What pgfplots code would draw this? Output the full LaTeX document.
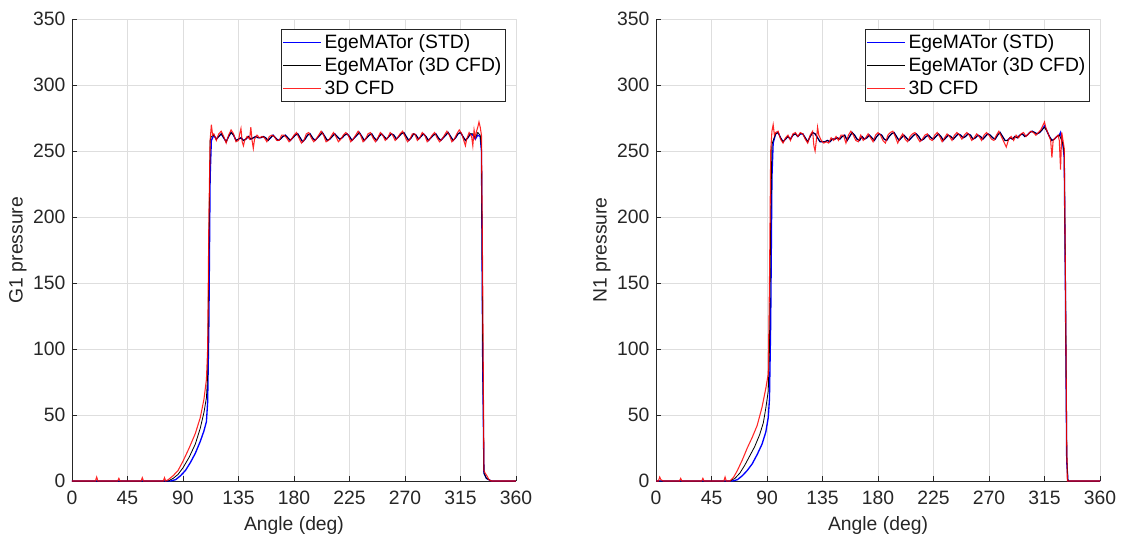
\documentclass[border=0pt]{standalone}
\usepackage{fontspec}
\setmainfont{Liberation Sans}
\usepackage{pgfplots}
\pgfplotsset{compat=1.18}
\definecolor{axgray}{rgb}{0.15,0.15,0.15}
\definecolor{gridgray}{rgb}{0.87,0.87,0.87}
\pgfplotsset{
  mlab/.style={
    scale only axis,
    width=333pt, height=346.5pt,
    xmin=0, xmax=360, ymin=0, ymax=350,
    xtick={0,45,...,360}, ytick={0,50,...,350},
    axis x line*=bottom, axis y line*=left,
    axis line style={axgray, line width=0.5pt},
    tick style={axgray, line width=0.5pt},
    tick align=inside, major tick length=4pt,
    grid=major, grid style={gridgray, line width=0.5pt},
    font=\fontsize{14.5}{17}\selectfont,
    tick label style={text=axgray},
    xticklabel style={yshift=-4pt},
    yticklabel style={xshift=-1.5pt},
    /pgf/number format/assume math mode=true,
    xlabel={Angle (deg)},
    xlabel style={text=axgray, yshift=-2pt},
    ylabel style={text=axgray, yshift=-2pt},
    legend style={at={(0.977,0.978)}, anchor=north east, draw=axgray,
      line width=0.5pt, fill=white, font=\fontsize{14.5}{17}\selectfont,
      inner xsep=1pt, inner ysep=1.5pt, row sep=1.6pt,
      cells={anchor=west}},
    legend image code/.code={\draw[#1] (0pt,0pt) -- (28.5pt,0pt);},
  },
  stdline/.style={blue, line width=1pt},
  cfdline/.style={black, line width=0.6pt},
  redline/.style={red, line width=0.8pt, opacity=0.85},
}
\begin{document}
\begin{tikzpicture}
\useasboundingbox (-54pt,-41.25pt) rectangle (786.75pt,360.75pt);
% ---------------- G1 ----------------
\begin{axis}[mlab, at={(0pt,0pt)}, anchor=south west, ylabel={G1 pressure}]
\addplot[stdline] coordinates {
(0,0)(80,0)(84,1)(88,4)(92,8)(96,14)(100,21)(104,30)(107,38)(109,45)(110,60)(111,120)(112,230)(113,258)
(115,262)(117,259)(119,261)(121,263)(123,260)(125,257)(127,261)(129,264)(131,262)(133,258)(135,259)
(137,260)(139,258)(141,259)(143,261)(145,259)(147,260)(149,261)(151,260)(153,260)(155,261)(157,260)
(159,258)(161,260)(163,262)(165,260)(167,258)(169,259)(171,261)(173,262)(175,260)(177,258)(179,260)
(181,262)(183,263)(185,260)(187,257)(189,259)(191,262)(193,263)(195,260)(197,258)(199,260)(201,262)
(203,264)(205,261)(207,258)(209,259)(211,261)(213,263)(215,261)(217,259)(219,260)(221,262)(223,263)
(225,261)(227,258)(229,260)(231,262)(233,264)(235,261)(237,258)(239,260)(241,262)(243,263)(245,260)
(247,258)(249,261)(251,263)(253,261)(255,259)(257,261)(259,263)(261,262)(263,259)(265,261)(267,263)
(269,264)(271,261)(273,258)(275,260)(277,263)(279,262)(281,259)(283,261)(285,263)(287,261)(289,258)
(291,260)(293,262)(295,263)(297,260)(299,258)(301,260)(303,262)(305,264)(307,261)(309,258)(311,260)
(313,263)(315,264)(317,261)(319,258)(321,260)(323,263)(325,262)(327,259)(329,262)(331,261)(332,250)
(333,90)(334,6)(336,2)(340,0)(360,0)};
\addlegendentry{EgeMATor (STD)}
\addplot[cfdline] coordinates {
(0,0)(78,0)(82,2)(86,5)(90,10)(95,18)(100,28)(104,40)(107,52)(109,63)(110,80)(111,180)(112,258)(113,261)
(115,262)(117,259)(119,261)(121,263)(123,260)(125,257)(127,261)(129,264)(131,262)(133,258)(135,259)
(137,260)(139,258)(141,259)(143,261)(145,259)(147,260)(149,261)(151,260)(153,260)(155,261)(157,260)
(159,258)(161,260)(163,262)(165,260)(167,258)(169,259)(171,261)(173,262)(175,260)(177,258)(179,260)
(181,262)(183,263)(185,260)(187,257)(189,259)(191,262)(193,263)(195,260)(197,258)(199,260)(201,262)
(203,264)(205,261)(207,258)(209,259)(211,261)(213,263)(215,261)(217,259)(219,260)(221,262)(223,263)
(225,261)(227,258)(229,260)(231,262)(233,264)(235,261)(237,258)(239,260)(241,262)(243,263)(245,260)
(247,258)(249,261)(251,263)(253,261)(255,259)(257,261)(259,263)(261,262)(263,259)(265,261)(267,263)
(269,264)(271,261)(273,258)(275,260)(277,263)(279,262)(281,259)(283,261)(285,263)(287,261)(289,258)
(291,260)(293,262)(295,263)(297,260)(299,258)(301,260)(303,262)(305,264)(307,261)(309,258)(311,260)
(313,263)(315,264)(317,261)(319,258)(321,260)(323,263)(325,263)(327,260)(329,264)(331,262)(332,252)
(333,100)(334,6)(336,2)(340,0)(360,0)};
\addlegendentry{EgeMATor (3D CFD)}
\addplot[redline] coordinates {
(0,0)(19,0)(20,3)(21,0)(37,0)(38,2)(39,0)(56,0)(57,2.5)(58,0)(74,0)(75,2.5)(76,0)(78,1)(82,4)(86,8)
(90,15)(95,25)(100,36)(104,48)(107,62)(109,77)(110,100)(111,200)(112,258)(113,270)(114,262)
(115,263)(117,258)(119,263)(121,265)(123,261)(125,256)(127,262)(129,266)(131,263)(133,257)(135,258)
(136,263)(137,267)(138,257)(139,254)(140,258)(142,261)(144,259)(145,268)(146,258)(147,252)(148,259)
(150,262)(152,260)(154,261)(156,260)(158,257)(160,261)(162,262)(164,261)(166,258)(168,258)(170,262)
(172,262)(174,260)(176,257)(178,259)(180,262)(182,264)(184,260)(186,256)(188,258)(190,263)(192,264)
(194,260)(196,257)(198,259)(200,262)(202,265)(204,262)(206,257)(208,258)(210,261)(212,264)(214,261)
(216,257)(218,259)(220,262)(222,264)(224,262)(226,257)(228,259)(230,262)(232,265)(234,262)(236,257)
(238,259)(240,263)(242,264)(244,260)(246,257)(248,260)(250,264)(252,262)(254,258)(256,260)(258,264)
(260,262)(262,258)(264,260)(266,263)(268,265)(270,261)(272,257)(274,259)(276,263)(278,263)(280,258)
(282,260)(284,264)(286,262)(288,257)(290,259)(292,262)(294,264)(296,260)(298,257)(300,259)(302,262)
(304,265)(306,262)(308,257)(310,259)(312,263)(314,266)(316,263)(318,257)(319,254)(320,259)(322,264)
(324,261)(325,254)(326,266)(327,260)(328,265)(329,268)(330,272)(331,268)(332,262)(333,150)(334,8)
(335,6)(337,3)(338,1)(340,0)(360,0)};
\addlegendentry{3D CFD}
\end{axis}
% ---------------- N1 ----------------
\begin{axis}[mlab, at={(438pt,0pt)}, anchor=south west, ylabel={N1 pressure}]
\addplot[stdline] coordinates {
(0,0)(62,0)(66,1)(70,4)(74,8)(78,13)(82,20)(86,28)(89,37)(91,48)(92,62)(93,120)(94,230)(95,256)
(97,263)(99,264)(101,260)(103,257)(105,259)(107,261)(109,259)(111,262)(113,263)(115,261)(117,263)
(119,263)(121,260)(123,257)(125,261)(127,264)(129,263)(131,260)(133,257)(135,257)(137,257)(139,258)
(141,257)(143,259)(145,259)(147,260)(149,259)(151,261)(153,262)(155,258)(157,261)(159,264)(161,262)
(163,259)(165,258)(167,261)(169,259)(171,260)(173,262)(175,260)(177,258)(179,261)(181,263)(183,262)
(185,259)(187,258)(189,261)(191,263)(193,264)(195,261)(197,258)(199,260)(201,262)(203,260)(205,258)
(207,260)(209,262)(211,263)(213,261)(215,258)(217,259)(219,261)(221,262)(223,260)(225,259)(227,261)
(229,263)(231,261)(233,258)(235,260)(237,262)(239,261)(241,259)(243,261)(245,263)(247,262)(249,260)
(251,261)(253,263)(255,262)(257,259)(259,260)(261,262)(263,261)(265,259)(267,261)(269,263)(271,262)
(273,260)(275,259)(277,262)(279,264)(281,261)(283,258)(285,258)(287,260)(289,259)(291,261)(293,260)
(295,262)(297,263)(299,261)(301,262)(303,264)(305,265)(307,264)(309,263)(311,264)(313,266)(315,269)
(317,265)(319,261)(321,258)(323,259)(325,261)(327,262)(328,264)(329,258)(330,254)(331,245)(332,140)
(333,15)(334,0)(360,0)};
\addlegendentry{EgeMATor (STD)}
\addplot[cfdline] coordinates {
(0,0)(60,0)(64,2)(68,6)(72,12)(76,19)(80,26)(84,35)(87,44)(89,55)(91,68)(92,100)(93,200)(94,255)(95,258)
(97,263)(99,264)(101,260)(103,257)(105,259)(107,261)(109,259)(111,262)(113,263)(115,261)(117,263)
(119,263)(121,260)(123,257)(125,261)(127,264)(129,263)(131,260)(133,257)(135,257)(137,257)(139,258)
(141,257)(143,259)(145,259)(147,260)(149,259)(151,261)(153,262)(155,258)(157,261)(159,264)(161,262)
(163,259)(165,258)(167,261)(169,259)(171,260)(173,262)(175,260)(177,258)(179,261)(181,263)(183,262)
(185,259)(187,258)(189,261)(191,263)(193,264)(195,261)(197,258)(199,260)(201,262)(203,260)(205,258)
(207,260)(209,262)(211,263)(213,261)(215,258)(217,259)(219,261)(221,262)(223,260)(225,259)(227,261)
(229,263)(231,261)(233,258)(235,260)(237,262)(239,261)(241,259)(243,261)(245,263)(247,262)(249,260)
(251,261)(253,263)(255,262)(257,259)(259,260)(261,262)(263,261)(265,259)(267,261)(269,263)(271,262)
(273,260)(275,259)(277,262)(279,264)(281,261)(283,258)(285,258)(287,260)(289,259)(291,261)(293,260)
(295,262)(297,263)(299,261)(301,262)(303,264)(305,265)(307,264)(309,263)(311,264)(313,266)(315,268)
(317,265)(319,261)(321,258)(323,259)(325,261)(327,262)(329,258)(330,255)(331,248)(332,150)(333,20)
(334,0)(360,0)};
\addlegendentry{EgeMATor (3D CFD)}
\addplot[redline] coordinates {
(0,0)(2,0)(3,3)(4,1)(6,0)(19,0)(20,2)(21,0)(37,0)(38,2)(39,0)(55,0)(56,3)(57,0)(60,0)(63,3)(66,8)
(70,16)(74,25)(78,33)(82,42)(86,56)(89,70)(91,81)(92,150)(93,250)(94,265)(95,270)(96,262)(97,264)
(99,265)(101,259)(103,256)(105,260)(107,262)(109,258)(111,263)(113,264)(115,261)(117,264)(119,263)
(121,259)(123,256)(125,262)(127,265)(128,254)(129,250)(130,258)(131,268)(132,262)(134,258)(136,256)
(138,257)(140,256)(142,260)(144,258)(146,261)(148,258)(150,262)(152,262)(154,256)(156,262)(158,265)
(160,262)(162,258)(164,257)(166,262)(168,258)(170,260)(172,263)(174,260)(176,257)(178,262)(180,264)
(182,262)(184,258)(186,256)(188,262)(190,264)(192,265)(194,261)(196,256)(198,260)(200,263)(202,259)
(204,257)(206,261)(208,263)(210,264)(212,260)(214,257)(216,259)(218,262)(220,263)(222,259)(224,258)
(226,262)(228,264)(230,261)(232,257)(234,260)(236,263)(238,261)(240,258)(242,262)(244,264)(246,262)
(248,259)(250,262)(252,264)(254,262)(256,258)(258,260)(260,263)(262,261)(264,258)(266,262)(268,264)
(270,262)(272,259)(274,258)(276,262)(278,265)(280,261)(282,257)(284,253)(286,259)(288,261)(290,258)
(292,262)(294,260)(296,263)(298,264)(300,261)(302,263)(304,265)(306,264)(308,262)(310,264)(312,266)
(314,270)(315,272)(316,268)(318,263)(320,258)(321,245)(322,258)(324,260)(326,262)(327,258)(328,236)
(329,264)(330,258)(331,252)(332,150)(333,30)(333.5,0)(360,0)};
\addlegendentry{3D CFD}
\end{axis}
\end{tikzpicture}
\end{document}
